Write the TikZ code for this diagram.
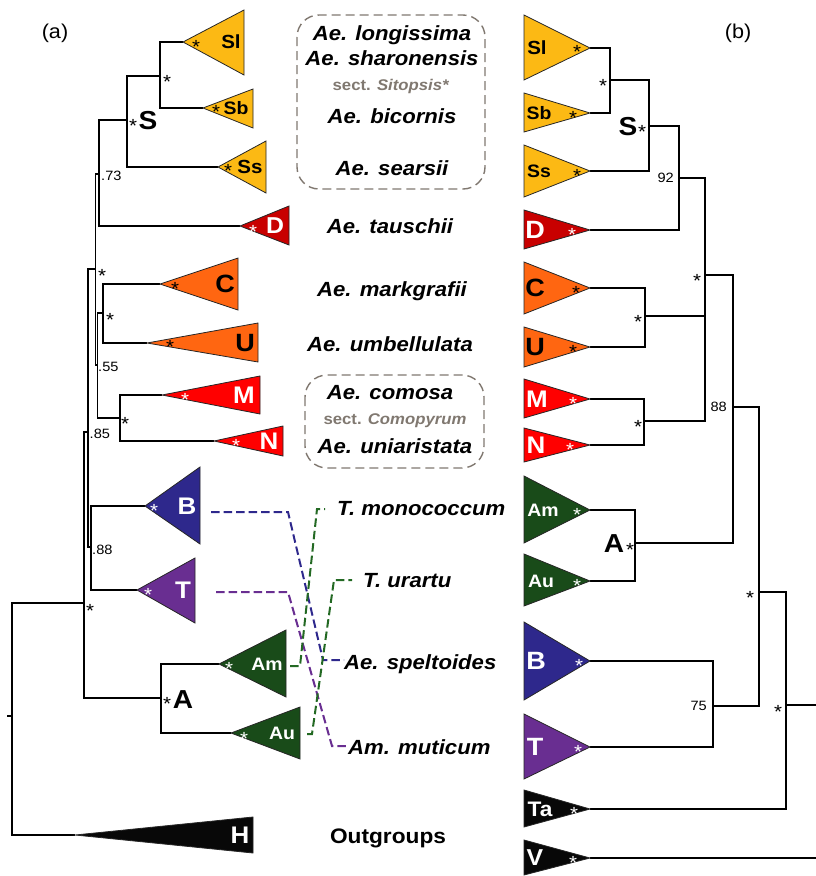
\documentclass[tikz,border=0pt]{standalone}
\usepackage{fontspec}
\setmainfont{Liberation Sans}[FakeStretch=1.08]
\definecolor{cS}{RGB}{252,185,20}
\definecolor{cD}{RGB}{200,0,0}
\definecolor{cC}{RGB}{255,102,17}
\definecolor{cM}{RGB}{255,0,0}
\definecolor{cB}{RGB}{46,40,140}
\definecolor{cT}{RGB}{105,46,145}
\definecolor{cA}{RGB}{25,75,25}
\definecolor{cH}{RGB}{8,8,8}
\definecolor{cG}{RGB}{128,120,112}
\definecolor{cGd}{RGB}{35,105,35}
\tikzset{
 br/.style={line width=1.7pt},
 tri/.style={draw=black!85, line width=0.8pt},
 lab/.style={inner sep=0pt, font=\bfseries\fontsize{#1}{#1}\selectfont},
 lw/.style={lab=#1, text=white},
 lb/.style={lab=#1, text=black},
 stw/.style={inner sep=0pt, text=white, font=\fontsize{19}{19}\selectfont, yshift=-4pt},
 stb/.style={stw, text=black},
 num/.style={inner sep=0pt, font=\fontsize{13.5}{13.5}\selectfont},
 sp/.style={inner sep=0pt, anchor=base, font=\bfseries\itshape\fontsize{20.5}{24}\selectfont},
 spw/.style={sp, anchor=base west},
 sect/.style={inner sep=0pt, anchor=base, text=cG, font=\bfseries\fontsize{15.5}{17}\selectfont},
 dbox/.style={draw=cG, line width=1.4pt, dash pattern=on 9pt off 5pt, rounded corners=22pt},
 dsh/.style={line width=2pt, dash pattern=on 8.5pt off 4pt},
}
\newcommand\LTri[5]{\filldraw[tri, fill=#2] (#1) -- (#3,#4) -- (#3,#5) -- cycle;}
\newcommand\RTri[4]{\filldraw[tri, fill=#2] (#1) -- (524,#3) -- (524,#4) -- cycle;}
\begin{document}
\begin{tikzpicture}[x=1pt,y=-1pt]
\useasboundingbox (0,0) rectangle (816,876);
% ---------- left tree coordinates
\coordinate (Sl) at (183,42);
\coordinate (Sb) at (203,108);
\coordinate (Ss) at (218,167);
\coordinate (D) at (240,226);
\coordinate (C) at (160,284);
\coordinate (U) at (147,343);
\coordinate (M) at (162,395);
\coordinate (N) at (214,441);
\coordinate (B) at (145,506);
\coordinate (T) at (137,590);
\coordinate (Am) at (219,664);
\coordinate (Au) at (231,733);
\coordinate (H) at (75,835);
\coordinate (nSlSb) at (160,76);
\coordinate (nS) at (127,120);
\coordinate (n73) at (99,174);
\coordinate (nCU) at (103,313);
\coordinate (nMN) at (120,418);
\coordinate (n55) at (97.5,365);
\coordinate (nP3) at (95.5,269);
\coordinate (nBT) at (91,547);
\coordinate (nP2) at (88,432);
\coordinate (nP1) at (84,603);
\coordinate (nA) at (161,698);
\coordinate (root) at (12,716);
\coordinate (rootL) at (7,716);
% ---------- left tree branches
\draw[br] (nSlSb) |- (Sl) (nSlSb) |- (Sb)
 (nS) |- (nSlSb) (nS) |- (Ss)
 (n73) |- (nS) (n73) |- (D)
 (nCU) |- (C) (nCU) |- (U)
 (nMN) |- (M) (nMN) |- (N)
 (n55) |- (nCU) (n55) |- (nMN)
 (nP3) |- (n73) (nP3) |- (n55)
 (nBT) |- (B) (nBT) |- (T)
 (nP2) |- (nP3) (nP2) |- (nBT)
 (nP1) |- (nP2) (nP1) |- (nA)
 (nA) |- (Am) (nA) |- (Au)
 (root) |- (nP1) (root) |- (H) (rootL) -- (root);
% ---------- left triangles
\LTri{Sl}{cS}{244}{10}{75}
\LTri{Sb}{cS}{253}{89}{128}
\LTri{Ss}{cS}{266}{141}{193}
\LTri{D}{cD}{289}{206}{245}
\LTri{C}{cC}{238}{258}{310}
\LTri{U}{cC}{258}{323}{362}
\LTri{M}{cM}{260}{376}{414}
\LTri{N}{cM}{283}{426}{456}
\LTri{B}{cB}{200}{467}{544}
\LTri{T}{cT}{195}{558}{623}
\LTri{Am}{cA}{286}{630}{697}
\LTri{Au}{cA}{300}{707}{759}
\LTri{H}{cH}{253}{817}{853}
% labels left
\node[lb=19] (lSl) at (231,42) {Sl};
\node[lb=18] (lSb) at (236,108) {Sb};
\node[lb=19] (lSs) at (250,167) {Ss};
\node[lw=23] (lD) at (275,226) {D};
\node[lb=25] (lC) at (225,284) {C};
\node[lb=25] (lU) at (245,343) {U};
\node[lw=24] (lM) at (244,395) {M};
\node[lw=24] (lN) at (269,441) {N};
\node[lw=24] (lB) at (187,506) {B};
\node[lw=24] (lT) at (183,590) {T};
\node[lw=18] (lAm) at (267,664) {Am};
\node[lw=18] (lAu) at (282,733) {Au};
\node[lw=24] (lH) at (240,835) {H};
\node[stb] (sSl) at (196,43) {*};
\node[stb] (sSb) at (216,108) {*};
\node[stb] (sSs) at (228,167) {*};
\node[stw] (sD) at (253,228) {*};
\node[stb] (sC) at (175,285) {*};
\node[stb] (sU) at (170,343) {*};
\node[stw] (sM) at (185,396) {*};
\node[stw] (sN) at (236,442) {*};
\node[stw] (sB) at (154,507) {*};
\node[stw] (sT) at (148,591) {*};
\node[stw] (sAm) at (229,665) {*};
\node[stw] (sAu) at (244,735) {*};
% node supports left
\node[stb] (kSlSb) at (167,78) {*};
\node[stb] (kS) at (133,122) {*};
\node[lb=26] (kSl) at (148,121) {S};
\node[stb] (kCU) at (110,316) {*};
\node[stb] (kMN) at (125,420) {*};
\node[stb] (kP3) at (102,272) {*};
\node[stb] (kP1) at (90,607) {*};
\node[stb] (kA) at (167,700) {*};
\node[lb=26] (kAl) at (183,700) {A};
\node[num, anchor=west] (k73) at (101,176) {.73};
\node[num, anchor=west] (k55) at (98,367) {.55};
\node[num, anchor=west] (k85) at (89.5,434) {.85};
\node[num, anchor=west] (k88) at (92,550) {.88};
% ---------- right tree coordinates
\coordinate (rSl) at (590,48);
\coordinate (rSb) at (590,113);
\coordinate (rSs) at (590,171);
\coordinate (rD) at (590,230);
\coordinate (rC) at (590,288);
\coordinate (rU) at (590,347);
\coordinate (rM) at (590,399);
\coordinate (rN) at (590,445);
\coordinate (rAm) at (590,510);
\coordinate (rAu) at (590,581);
\coordinate (rB) at (590,661);
\coordinate (rT) at (590,747);
\coordinate (rTa) at (590,809);
\coordinate (rV) at (590,858);
\coordinate (rSlSb) at (610,80);
\coordinate (rS) at (649,126);
\coordinate (r92) at (679,178);
\coordinate (rCU) at (645,316);
\coordinate (rMN) at (644,421);
\coordinate (rX) at (705,275);
\coordinate (rA) at (635,543);
\coordinate (r88) at (733,407);
\coordinate (rBT) at (713,706);
\coordinate (rY) at (759,592);
\coordinate (rZ) at (786,705);
\coordinate (rRoot) at (816,705);
\coordinate (rVend) at (816,858);
\draw[br] (rSlSb) |- (rSl) (rSlSb) |- (rSb)
 (rS) |- (rSlSb) (rS) |- (rSs)
 (r92) |- (rS) (r92) |- (rD)
 (rCU) |- (rC) (rCU) |- (rU)
 (rMN) |- (rM) (rMN) |- (rN)
 (rX) |- (r92) (rX) |- (rCU) (rX) |- (rMN)
 (rA) |- (rAm) (rA) |- (rAu)
 (r88) |- (rX) (r88) |- (rA)
 (rBT) |- (rB) (rBT) |- (rT)
 (rY) |- (r88) (rY) |- (rBT)
 (rZ) |- (rY) (rZ) |- (rTa)
 (rRoot) -- (rZ) (rVend) -- (rV);
\RTri{rSl}{cS}{15}{80}
\RTri{rSb}{cS}{93}{132}
\RTri{rSs}{cS}{145}{197}
\RTri{rD}{cD}{210}{249}
\RTri{rC}{cC}{262}{314}
\RTri{rU}{cC}{327}{367}
\RTri{rM}{cM}{379}{418}
\RTri{rN}{cM}{428}{462}
\RTri{rAm}{cA}{476}{543}
\RTri{rAu}{cA}{554}{606}
\RTri{rB}{cB}{622}{700}
\RTri{rT}{cT}{714}{779}
\RTri{rTa}{cH}{790}{827}
\RTri{rV}{cH}{840}{875}
\node[lb=19] (mSl) at (537,48) {Sl};
\node[lb=18] (mSb) at (539,113) {Sb};
\node[lb=18] (mSs) at (539,171) {Ss};
\node[lw=25] (mD) at (535,230) {D};
\node[lb=25] (mC) at (535,288) {C};
\node[lb=25] (mU) at (535,347) {U};
\node[lw=24] (mM) at (537,399) {M};
\node[lw=24] (mN) at (536,445) {N};
\node[lw=18] (mAm) at (543,510) {Am};
\node[lw=18] (mAu) at (541,581) {Au};
\node[lw=25] (mB) at (536,661) {B};
\node[lw=25] (mT) at (535,747) {T};
\node[lw=21] (mTa) at (540,809) {Ta};
\node[lw=23] (mV) at (535,858) {V};
\node[stb] (tSl) at (577,48) {*};
\node[stb] (tSb) at (573,114) {*};
\node[stb] (tSs) at (577,172) {*};
\node[stw] (tD) at (572,231) {*};
\node[stb] (tC) at (576,289) {*};
\node[stb] (tU) at (573,348) {*};
\node[stw] (tM) at (573,400) {*};
\node[stw] (tN) at (570,446) {*};
\node[stw] (tAm) at (577,511) {*};
\node[stw] (tAu) at (577,582) {*};
\node[stw] (tB) at (579,662) {*};
\node[stw] (tT) at (578,748) {*};
\node[stw] (tTa) at (574,810) {*};
\node[stw] (tV) at (573,859) {*};
% supports right
\node[stb] (qSlSb) at (603,82) {*};
\node[lb=26] (qSl) at (628,127) {S};
\node[stb] (qS) at (642,128) {*};
\node[num, anchor=east] (q92) at (674,178) {92};
\node[stb] (qCU) at (638,318) {*};
\node[stb] (qMN) at (638,423) {*};
\node[stb] (qX) at (697,277) {*};
\node[lb=26] (qAl) at (614,544) {A};
\node[stb] (qA) at (630,546) {*};
\node[num, anchor=east] (q88) at (727,407) {88};
\node[num, anchor=east] (q75) at (707,706) {75};
\node[stb] (qY) at (750,594) {*};
\node[stb] (qZ) at (778,708) {*};
% ---------- panel letters
\node[inner sep=0pt, font=\fontsize{20}{20}\selectfont] (pa) at (55,33) {(a)};
\node[inner sep=0pt, font=\fontsize{20}{20}\selectfont] (pb) at (738,33) {(b)};
% ---------- boxes and species names
\draw[dbox] (297,15) rectangle (485,189);
\draw[dbox] (305,375) rectangle (484,468);
\node[sp] (long) at (392,40) {Ae. longissima};
\node[sp] (shar) at (392,65) {Ae. sharonensis};
\node[sect] (sito) at (391,90) {sect. \textit{Sitopsis*}};
\node[sp] (bico) at (392,123) {Ae. bicornis};
\node[sp] (sear) at (392,175) {Ae. searsii};
\node[sp] (taus) at (390,233) {Ae. tauschii};
\node[sp] (mark) at (392,296) {Ae. markgrafii};
\node[sp] (umbe) at (390,351) {Ae. umbellulata};
\node[sp] (como) at (390,399) {Ae. comosa};
\node[sect] (comy) at (395,424) {sect. \textit{Comopyrum}};
\node[sp] (unia) at (395,453) {Ae. uniaristata};
\node[spw] (mono) at (337,515) {T. monococcum};
\node[spw] (urar) at (363,587) {T. urartu};
\node[spw] (spel) at (344,669) {Ae. speltoides};
\node[spw] (muti) at (348,754) {Am. muticum};
\node[inner sep=0pt, anchor=base, font=\bfseries\fontsize{21}{24}\selectfont] (outg) at (388,843) {Outgroups};
% ---------- dashed links
\coordinate (bS) at (211,512);
\coordinate (b1) at (288,512);
\coordinate (b2) at (323,660);
\draw[dsh, cB] (bS) -- (b1) -- (b2) -- (b2 -| spel.west);
\coordinate (pS) at (216,592);
\coordinate (p1) at (288,592);
\coordinate (p2) at (332,746);
\draw[dsh, cT] (pS) -- (p1) -- (p2) -- (p2 -| muti.west);
\coordinate (gS) at (290,666);
\coordinate (g1) at (300,666);
\coordinate (g2) at (317,509);
\coordinate (gE) at (325,509);
\draw[dsh, cGd] (gS) -- (g1) -- (g2) -- (gE);
\coordinate (hS) at (307,734);
\coordinate (h1) at (312,734);
\coordinate (h2) at (334,580);
\coordinate (hE) at (352,580);
\draw[dsh, cGd] (hS) -- (h1) -- (h2) -- (hE);
\end{tikzpicture}
\end{document}
